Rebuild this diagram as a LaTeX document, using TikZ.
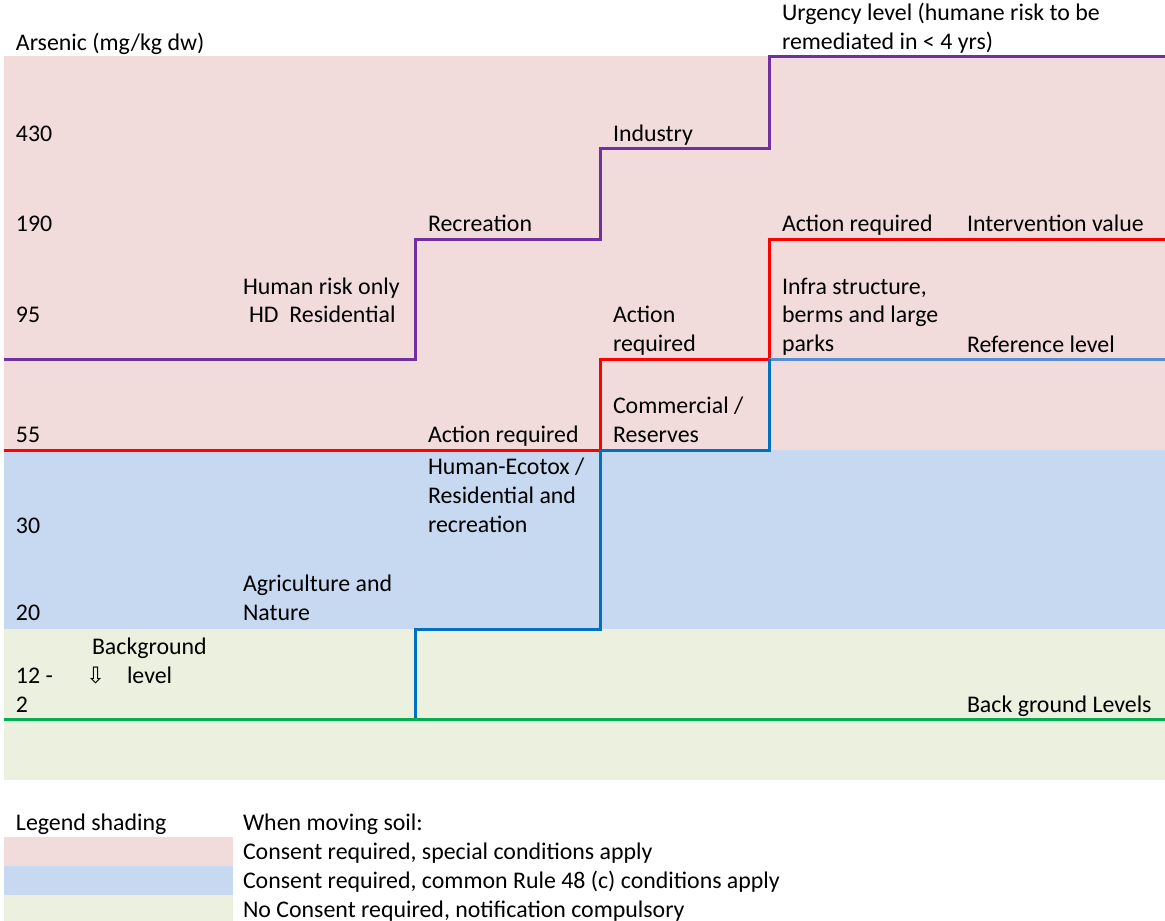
\documentclass[tikz,border=0pt]{standalone}
\usepackage{fontspec}
\setmainfont{Carlito}
\newfontfamily\symfont{DejaVu Sans}
\definecolor{pinkbg}{HTML}{F2DCDB}
\definecolor{bluebg}{HTML}{C6D9F0}
\definecolor{greenbg}{HTML}{EBF1DE}
\definecolor{lpurple}{HTML}{7030A0}
\definecolor{lred}{HTML}{FF0000}
\definecolor{ldblue}{HTML}{0070C0}
\definecolor{llblue}{HTML}{558ED5}
\definecolor{lgreen}{HTML}{00B050}
\begin{document}
\begin{tikzpicture}[x=0.75pt,y=-0.75pt,
  every node/.style={inner sep=0pt, outer sep=0pt, anchor=base west, font=\fontsize{17.9}{21.75}\selectfont},
  lvl/.style={line width=2.25pt, line join=miter}]
\useasboundingbox (0,0) rectangle (1165,921);
% background bands
\fill[pinkbg] (4,56) rectangle (1165,450);
\fill[bluebg] (4,450) rectangle (1165,629);
\fill[greenbg] (4,629) rectangle (1165,780);
% legend swatches
\fill[pinkbg] (4,837) rectangle (233,866);
\fill[bluebg] (4,866) rectangle (233,895);
\fill[greenbg] (4,895) rectangle (233,921);
% level lines
\draw[lvl, lpurple] (4,359) -- (415,359) -- (415,239) -- (600,239) -- (600,148) -- (769,148) -- (769,56) -- (1165,56);
\draw[lvl, lred] (4,450) -- (600,450) -- (600,359) -- (769,359) -- (769,239) -- (1165,239);
\draw[lvl, llblue] (769,359) -- (1165,359);
\draw[lvl, ldblue] (415,719) -- (415,629) -- (600,629) -- (600,450) -- (769,450) -- (769,359);
\draw[lvl, lgreen] (4,719) -- (1165,719);
% header texts
\node (urg1) at (782,20) {Urgency level (humane risk to be};
\node (urg2) at (782,49) {remediated in < 4 yrs)};
\node (ars) at (16,50) {Arsenic (mg/kg dw)};
% axis values
\node (v430) at (16,141) {430};
\node (v190) at (16,231) {190};
\node (v95) at (16,322) {95};
\node (v55) at (16,442) {55};
\node (v30) at (16,533) {30};
\node (v20) at (16,620) {20};
\node (v12) at (16,683) {12 -};
\node (v2) at (16,712) {2};
% column texts
\node (ind) at (613,141) {Industry};
\node (rec) at (428,231) {Recreation};
\node (actF) at (782,231) {Action required};
\node (intv) at (967,231) {Intervention value};
\node (hro1) at (243,294) {Human risk only};
\node (hro2) at (249,322) {HD\ \ Residential};
\node (actE1) at (613,322) {Action};
\node (actE2) at (613,351) {required};
\node (inf1) at (782,294) {Infra structure,};
\node (inf2) at (782,322) {berms and large};
\node (inf3) at (782,351) {parks};
\node (refl) at (967,352) {Reference level};
\node (com1) at (613,413) {Commercial /};
\node (com2) at (613,442) {Reserves};
\node (actD) at (428,442) {Action required};
\node (he1) at (428,474) {Human-Ecotox /};
\node (he2) at (428,503) {Residential and};
\node (he3) at (428,532) {recreation};
\node (agr1) at (243,591) {Agriculture and};
\node (agr2) at (243,620) {Nature};
\node (bg1) at (92,654) {Background};
\node (bgarr) at (86,683) {\symfont\fontsize{17}{20}\selectfont ⇩};
\node (bg2) at (127,683) {level};
\node (bgl) at (967,712) {Back ground Levels};
% legend
\node (leg) at (16,830) {Legend shading};
\node (wms) at (243,830) {When moving soil:};
\node (l1) at (243,859) {Consent required, special conditions apply};
\node (l2) at (243,888) {Consent required, common Rule 48 (c) conditions apply};
\node (l3) at (243,917) {No Consent required, notification compulsory};
\end{tikzpicture}
\end{document}
